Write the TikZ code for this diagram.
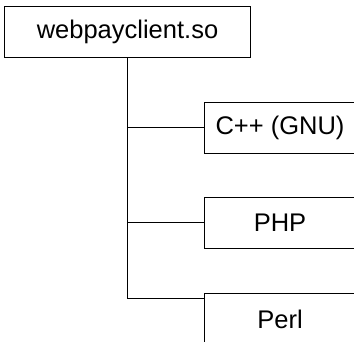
\documentclass[tikz,border=0pt]{standalone}
\usepackage{fontspec}
\setmainfont{Liberation Sans}
\usepackage{tikz}
\usetikzlibrary{positioning,calc}
\tikzset{
  libbox/.style ={draw,line width=0.8pt,minimum width=246pt,minimum height=51pt,inner sep=0pt,
                  font=\fontsize{25.5}{30}\selectfont},
  langbox/.style={draw,line width=0.8pt,minimum width=152pt,minimum height=51pt,inner sep=0pt,
                  font=\fontsize{25.5}{30}\selectfont},
  branch/.style ={draw,line width=0.8pt},
}
\begin{document}
\begin{tikzpicture}[x=1pt,y=-1pt]
  \clip (0,0) rectangle (354,341);
  \node [libbox]  (lib)  at (127.5,31.5) {webpayclient.so};
  \node [langbox] (cpp)  at (280,127.8)  {C++ (GNU)};
  \node [langbox] (php)  at (280,222.8)  {PHP};
  \node [langbox] (perl) at (280,319)    {Perl};
  \coordinate (perljoin) at ($(perl.north west)+(0,5.7)$);
  % tree trunk and the three branches
  \path [branch] (lib.south) |- (cpp.west);
  \path [branch] (lib.south) |- (php.west);
  \path [branch] (lib.south) |- (perljoin);
\end{tikzpicture}
\end{document}
